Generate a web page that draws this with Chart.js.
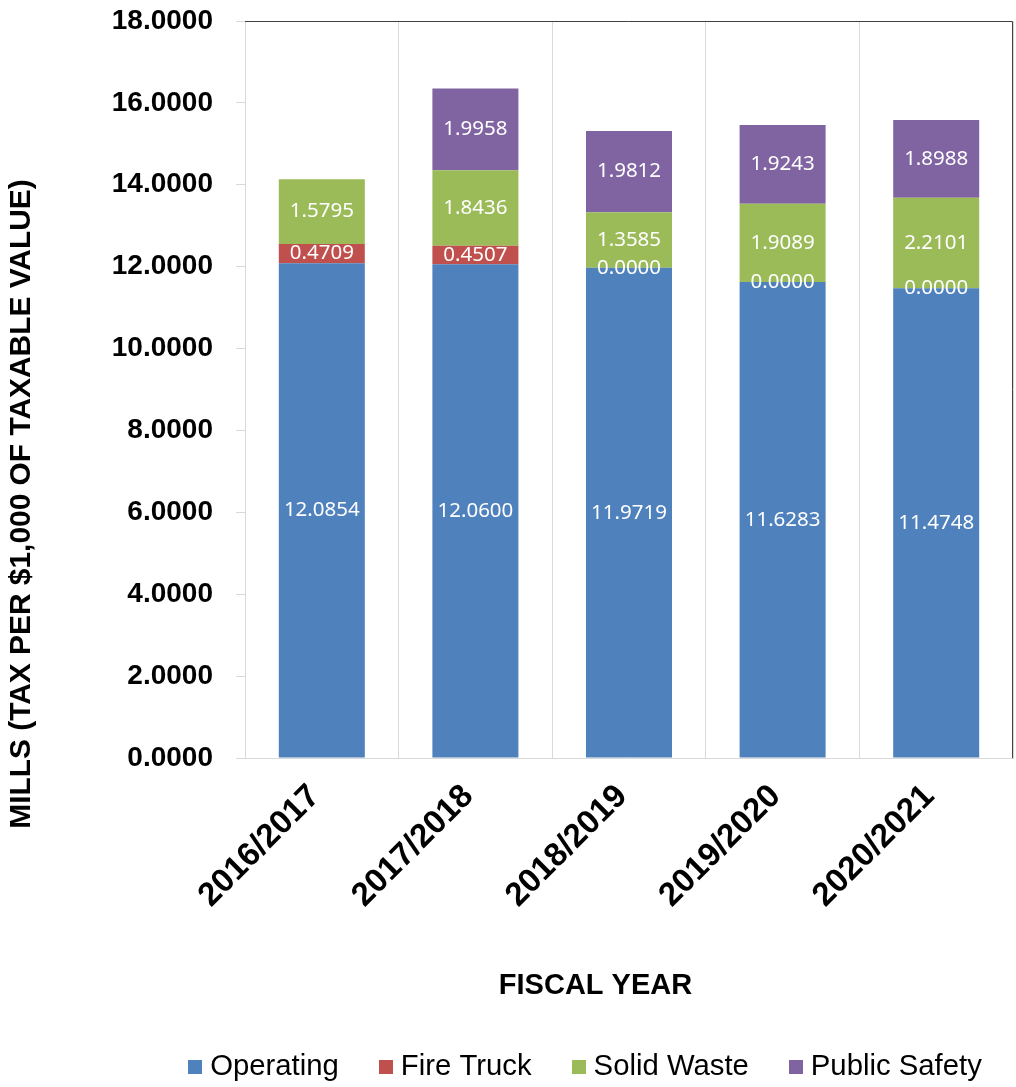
<!DOCTYPE html>
<html>
<head>
<meta charset="utf-8">
<script src="https://cdn.jsdelivr.net/npm/chart.js@4/dist/chart.umd.min.js"></script>
<style>
  html, body { margin: 0; padding: 0; background: #ffffff; }
  #c { display: block; }
</style>
</head>
<body>
<canvas id="c" width="1016" height="1087"></canvas>
<script>
// Millage rates by fiscal year (mills = tax per $1,000 of taxable value)
const fiscalYears  = ['2016/2017', '2017/2018', '2018/2019', '2019/2020', '2020/2021'];
const operating    = [12.0854, 12.0600, 11.9719, 11.6283, 11.4748];
const fireTruck    = [0.4709, 0.4507, 0.0000, 0.0000, 0.0000];
const solidWaste   = [1.5795, 1.8436, 1.3585, 1.9089, 2.2101];
const publicSafety = [null, 1.9958, 1.9812, 1.9243, 1.8988];
const seriesNames  = ['Operating', 'Fire Truck', 'Solid Waste', 'Public Safety'];
const yAxisMax  = 18;
const yAxisStep = 2;
const yTitle = 'MILLS (TAX PER $1,000 OF TAXABLE VALUE)';
const xTitle = 'FISCAL YEAR';

const seriesColors = ['#4F81BD', '#C0504D', '#9BBB59', '#8064A2'];
const seriesValues = [operating, fireTruck, solidWaste, publicSafety];

const AXIS_FONT = '"Liberation Sans", Arial, sans-serif';
const LABEL_FONT = '"Noto Sans", "Open Sans", sans-serif';

// value labels centred inside each stacked segment
const segmentLabels = {
  id: 'segmentLabels',
  afterDatasetsDraw(chart) {
    const ctx = chart.ctx;
    ctx.save();
    ctx.font = '20.5px ' + LABEL_FONT;
    ctx.fillStyle = '#ffffff';
    ctx.textAlign = 'center';
    ctx.textBaseline = 'middle';
    chart.data.datasets.forEach((ds, di) => {
      const meta = chart.getDatasetMeta(di);
      meta.data.forEach((bar, i) => {
        const v = ds.data[i];
        if (v === null || v === undefined) return;
        const p = bar.getProps(['x', 'y', 'base'], true);
        ctx.fillText(v.toFixed(4), p.x, (p.y + p.base) / 2);
      });
    });
    ctx.restore();
  }
};

// dark frame on the top and right of the plot area
const plotFrame = {
  id: 'plotFrame',
  afterDraw(chart) {
    const { ctx, chartArea: a } = chart;
    ctx.save();
    ctx.strokeStyle = '#404040';
    ctx.lineWidth = 1;
    const top = Math.round(a.top) + 0.5;
    const right = Math.round(a.right) - 0.5;
    ctx.beginPath();
    ctx.moveTo(a.left, top);
    ctx.lineTo(right, top);
    ctx.lineTo(right, a.bottom);
    ctx.stroke();
    ctx.restore();
  }
};

// axis titles and legend row
const titlesAndLegend = {
  id: 'titlesAndLegend',
  afterDraw(chart) {
    const ctx = chart.ctx;
    ctx.save();
    ctx.fillStyle = '#000000';
    ctx.textAlign = 'center';
    ctx.textBaseline = 'middle';

    ctx.font = 'bold 29.9px ' + AXIS_FONT;
    ctx.save();
    ctx.translate(22, 504);
    ctx.rotate(-Math.PI / 2);
    ctx.fillText(yTitle, 0, 0);
    ctx.restore();

    ctx.font = 'bold 29px ' + AXIS_FONT;
    ctx.fillText(xTitle, 595.5, 986);

    // legend
    ctx.font = '29.3px ' + AXIS_FONT;
    const box = 14, gap = 8, spacing = 40;
    const items = chart.data.datasets.map(ds => ({
      text: ds.label, color: ds.backgroundColor, w: ctx.measureText(ds.label).width
    }));
    const total = items.reduce((s, it) => s + box + gap + it.w, 0) + spacing * (items.length - 1);
    let x = 585 - total / 2;
    const cy = 1067;
    ctx.textAlign = 'left';
    items.forEach(it => {
      ctx.fillStyle = it.color;
      ctx.fillRect(Math.round(x), Math.round(cy - box / 2), box, box);
      ctx.fillStyle = '#000000';
      ctx.fillText(it.text, x + box + gap, cy);
      x += box + gap + it.w + spacing;
    });
    ctx.restore();
  }
};

new Chart(document.getElementById('c'), {
  type: 'bar',
  data: {
    labels: fiscalYears,
    datasets: seriesNames.map((name, k) => ({
      label: name,
      data: seriesValues[k],
      backgroundColor: seriesColors[k],
      borderWidth: 0,
      categoryPercentage: 1.0,
      barPercentage: 0.56
    }))
  },
  options: {
    responsive: false,
    animation: false,
    devicePixelRatio: 1,
    layout: { padding: { top: 21, right: 3, bottom: 0, left: 0 } },
    plugins: {
      legend: { display: false },
      tooltip: { enabled: false }
    },
    scales: {
      x: {
        stacked: true,
        grid: { offset: true, color: '#d9d9d9', drawTicks: false, lineWidth: 1 },
        border: { color: '#d9d9d9' },
        ticks: {
          color: '#000000',
          font: { family: AXIS_FONT, size: 33, weight: 'bold' },
          minRotation: 45,
          maxRotation: 45,
          autoSkip: false,
          padding: 19,
          labelOffset: -7
        },
        afterFit(s) { s.height = 329; s.paddingLeft = 0; s.paddingRight = 0; s.paddingTop = 0; s.paddingBottom = 0; }
      },
      y: {
        stacked: true,
        min: 0,
        max: yAxisMax,
        grid: { drawOnChartArea: false, drawTicks: true, tickLength: 9, color: '#d9d9d9' },
        border: { color: '#d9d9d9' },
        ticks: {
          stepSize: yAxisStep,
          color: '#000000',
          padding: 23,
          font: { family: AXIS_FONT, size: 28, weight: 'bold' },
          callback: v => Number(v).toFixed(4)
        },
        afterFit(s) { s.width = 245; s.paddingTop = 0; s.paddingBottom = 0; }
      }
    }
  },
  plugins: [segmentLabels, plotFrame, titlesAndLegend]
});
</script>
</body>
</html>
